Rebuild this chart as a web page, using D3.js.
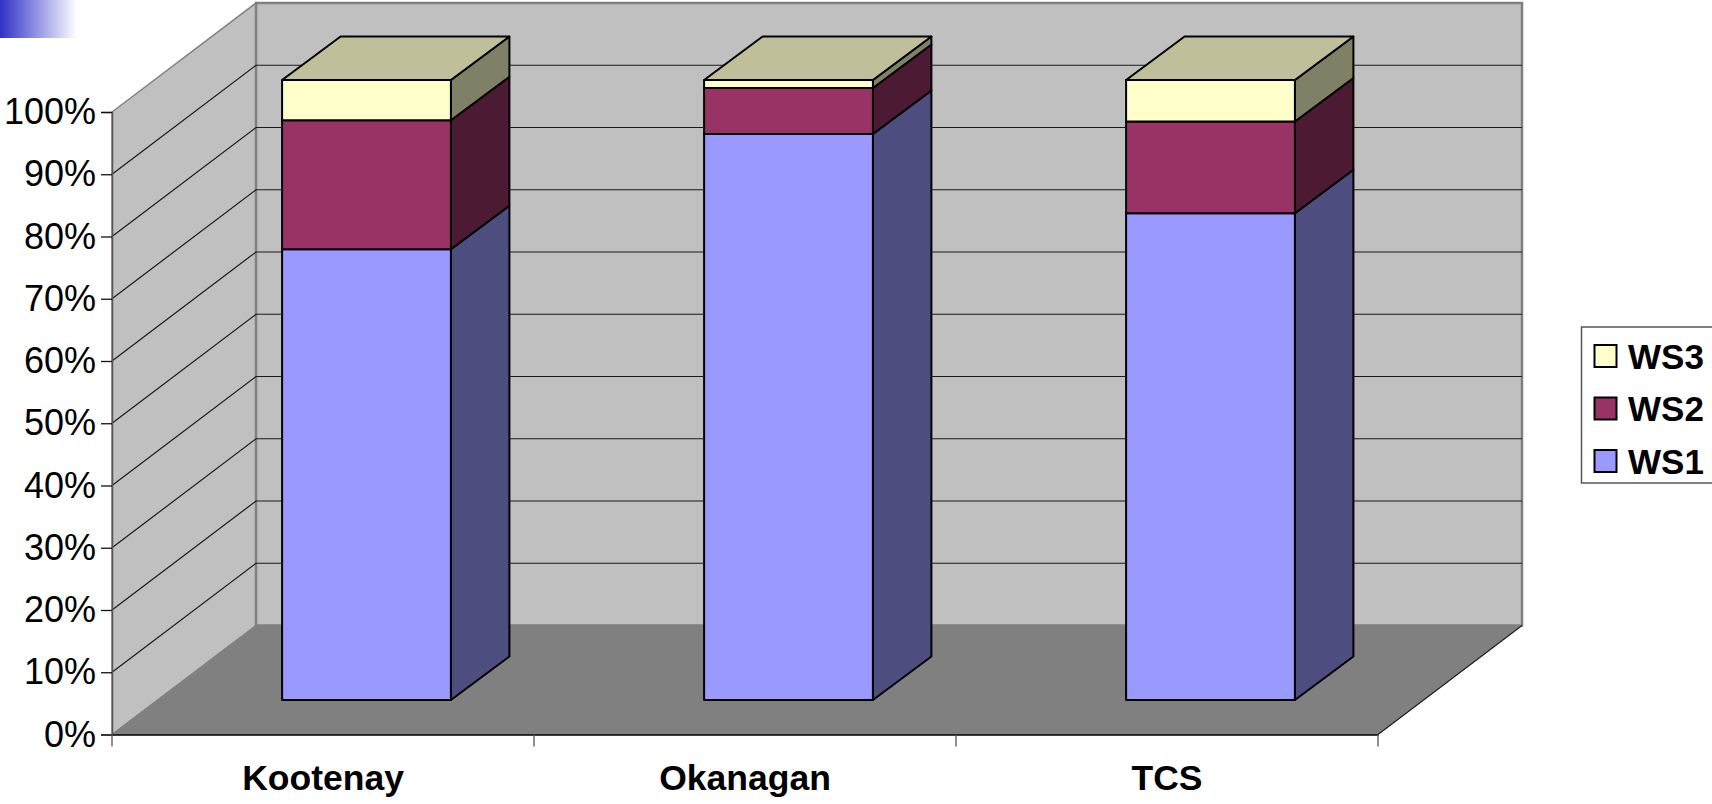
<!DOCTYPE html>
<html>
<head>
<meta charset="utf-8">
<script src="https://cdn.jsdelivr.net/npm/d3@7"></script>
<style>
    html, body { margin: 0; padding: 0; background: #fff; overflow: hidden; }
    text { font-family: "Liberation Sans", Arial, sans-serif; fill: #000; }
</style>
</head>
<body>
<div id="visualization"></div>
<script>
// Chart values
const categories = ["Kootenay", "Okanagan", "TCS"];
const seriesNames = ["WS1", "WS2", "WS3"];
const ws1 = [72.7, 91.3, 78.5];
const ws2 = [20.8, 7.4, 14.8];
const ws3 = [6.5, 1.3, 6.7];
const percentTicks = d3.range(0, 101, 10);

const frontColors = { WS1: "#9999ff", WS2: "#993366", WS3: "#ffffcc" };
const sideColors = { WS1: "#4d4d80", WS2: "#4d1a33", WS3: "#808066" };
const topColor = "#bfbf99";

const width = 1712;
const height = 804;

const svg = d3.select("#visualization").append("svg")
    .attr("width", width)
    .attr("height", height)
    .style("display", "block");

// Scales. Everything on the front plane of the box, the rest is pushed back by depth
const xScale = d3.scaleBand()
    .domain(categories)
    .range([112, 1378])
    .paddingInner(0.6)
    .paddingOuter(0.3);
const xAxisScale = d3.scaleBand().domain(categories).range([112, 1378]);
const yScale = d3.scaleLinear().domain([0, 100]).range([734.5, 112]);
const yBarScale = d3.scaleLinear().domain([0, 100]).range([700, 80]);

const depthX = 144;
const depthY = -109;
const barOffsetX = 43.5;
const barDepthX = 58.5;
const barDepthY = -43.5;

const polygon = d3.line();

function back(x, y) {
    return [x + depthX, y + depthY];
}

// Blue fade in the corner of the slide
const gradient = svg.append("defs").append("linearGradient").attr("id", "corner");
gradient.append("stop").attr("offset", "0").attr("stop-color", "#3030c8");
gradient.append("stop").attr("offset", "1").attr("stop-color", "#ffffff");
svg.append("rect")
    .attr("width", 77)
    .attr("height", 38)
    .attr("fill", "url(#corner)");

const x0 = xAxisScale.range()[0];
const x1 = xAxisScale.range()[1];
const y0 = yScale(0);
const y100 = yScale(100);

// Walls and floor
const wallStroke = "#808080";
svg.append("path")
    .attr("d", polygon([[x0, y0], [x0, y100], back(x0, y100), back(x0, y0)]) + "Z")
    .attr("fill", "#c0c0c0")
    .attr("stroke", wallStroke)
    .attr("stroke-width", 1.5);
svg.append("path")
    .attr("d", polygon([back(x0, y0), back(x0, y100), back(x1, y100), back(x1, y0)]) + "Z")
    .attr("fill", "#c0c0c0")
    .attr("stroke", wallStroke)
    .attr("stroke-width", 2.5);
svg.append("path")
    .attr("d", polygon([[x0, y0], back(x0, y0), back(x1, y0), [x1, y0]]) + "Z")
    .attr("fill", "#808080")
    .attr("stroke", "#808080")
    .attr("stroke-width", 1);
svg.append("line")
    .attr("x1", x1).attr("y1", y0)
    .attr("x2", back(x1, y0)[0]).attr("y2", back(x1, y0)[1])
    .attr("stroke", "#222")
    .attr("stroke-width", 1.2);

// Gridlines over both walls
percentTicks.filter(d => d > 0 && d < 100).forEach(d => {
    const y = yScale(d);
    svg.append("path")
        .attr("d", polygon([[x0, y], back(x0, y), back(x1, y)]))
        .attr("fill", "none")
        .attr("stroke", "#1a1a1a")
        .attr("stroke-width", 1.2);
});

// Axes
const yAxis = svg.append("g")
    .attr("transform", "translate(" + x0 + ",0)")
    .call(d3.axisLeft(yScale).tickValues(percentTicks).tickFormat(d => d + "%").tickSize(11).tickPadding(5));
yAxis.select(".domain").attr("stroke", "#555").attr("stroke-width", 1.5);
yAxis.selectAll(".tick line").attr("stroke", "#111").attr("stroke-width", 1.3);
yAxis.selectAll("text").attr("font-size", 36).attr("font-family", null);

const xAxis = svg.append("g")
    .attr("transform", "translate(0," + y0 + ")")
    .call(d3.axisBottom(xAxisScale).tickSize(0).tickPadding(0));
xAxis.select(".domain").attr("stroke", "#000").attr("stroke-width", 1.5);
xAxis.selectAll(".tick line").remove();
xAxis.selectAll("text")
    .attr("font-size", 35.5)
    .attr("font-weight", "bold")
    .attr("font-family", null)
    .attr("y", 0)
    .attr("dy", 55.5);
xAxis.selectAll(".edge")
    .data(d3.range(0, categories.length + 1))
    .enter()
    .append("line")
    .attr("class", "edge")
    .attr("x1", i => x0 + i * xAxisScale.step())
    .attr("x2", i => x0 + i * xAxisScale.step())
    .attr("y1", 0)
    .attr("y2", 12)
    .attr("stroke", "#555")
    .attr("stroke-width", 1.3);

// Stacked boxes
const table = categories.map((c, i) => ({ category: c, WS1: ws1[i], WS2: ws2[i], WS3: ws3[i] }));
const layers = d3.stack().keys(seriesNames)(table);
const barGroup = svg.append("g")
    .attr("stroke", "#000")
    .attr("stroke-width", 2)
    .attr("stroke-linejoin", "round");

layers.forEach(layer => {
    layer.forEach(d => {
        const left = xScale(d.data.category) + barOffsetX;
        const right = left + xScale.bandwidth();
        const bottom = yBarScale(d[0]);
        const top = yBarScale(d[1]);

        barGroup.append("path")
            .attr("d", polygon([[right, bottom], [right, top], [right + barDepthX, top + barDepthY], [right + barDepthX, bottom + barDepthY]]) + "Z")
            .attr("fill", sideColors[layer.key]);
        barGroup.append("rect")
            .attr("x", left)
            .attr("y", top)
            .attr("width", right - left)
            .attr("height", bottom - top)
            .attr("fill", frontColors[layer.key]);

        // Only the last layer shows its lid
        if (layer.key === seriesNames[seriesNames.length - 1]) {
            barGroup.append("path")
                .attr("d", polygon([[left, top], [left + barDepthX, top + barDepthY], [right + barDepthX, top + barDepthY], [right, top]]) + "Z")
                .attr("fill", topColor);
        }
    });
});

// Legend, runs off the right edge of the page like the original
const legend = svg.append("g");
legend.append("rect")
    .attr("x", 1581.5)
    .attr("y", 327)
    .attr("width", 160)
    .attr("height", 156)
    .attr("fill", "#fff")
    .attr("stroke", "#555")
    .attr("stroke-width", 1.5);

const legendRow = d3.scalePoint()
    .domain(seriesNames.slice().reverse())
    .range([356, 461]);

seriesNames.forEach(name => {
    legend.append("rect")
        .attr("x", 1594.5)
        .attr("y", legendRow(name) - 11)
        .attr("width", 22)
        .attr("height", 22)
        .attr("fill", frontColors[name])
        .attr("stroke", "#000")
        .attr("stroke-width", 2);
    legend.append("text")
        .attr("x", 1628)
        .attr("y", legendRow(name) + 12.5)
        .attr("font-size", 35)
        .attr("font-weight", "bold")
        .text(name);
});
</script>
</body>
</html>
